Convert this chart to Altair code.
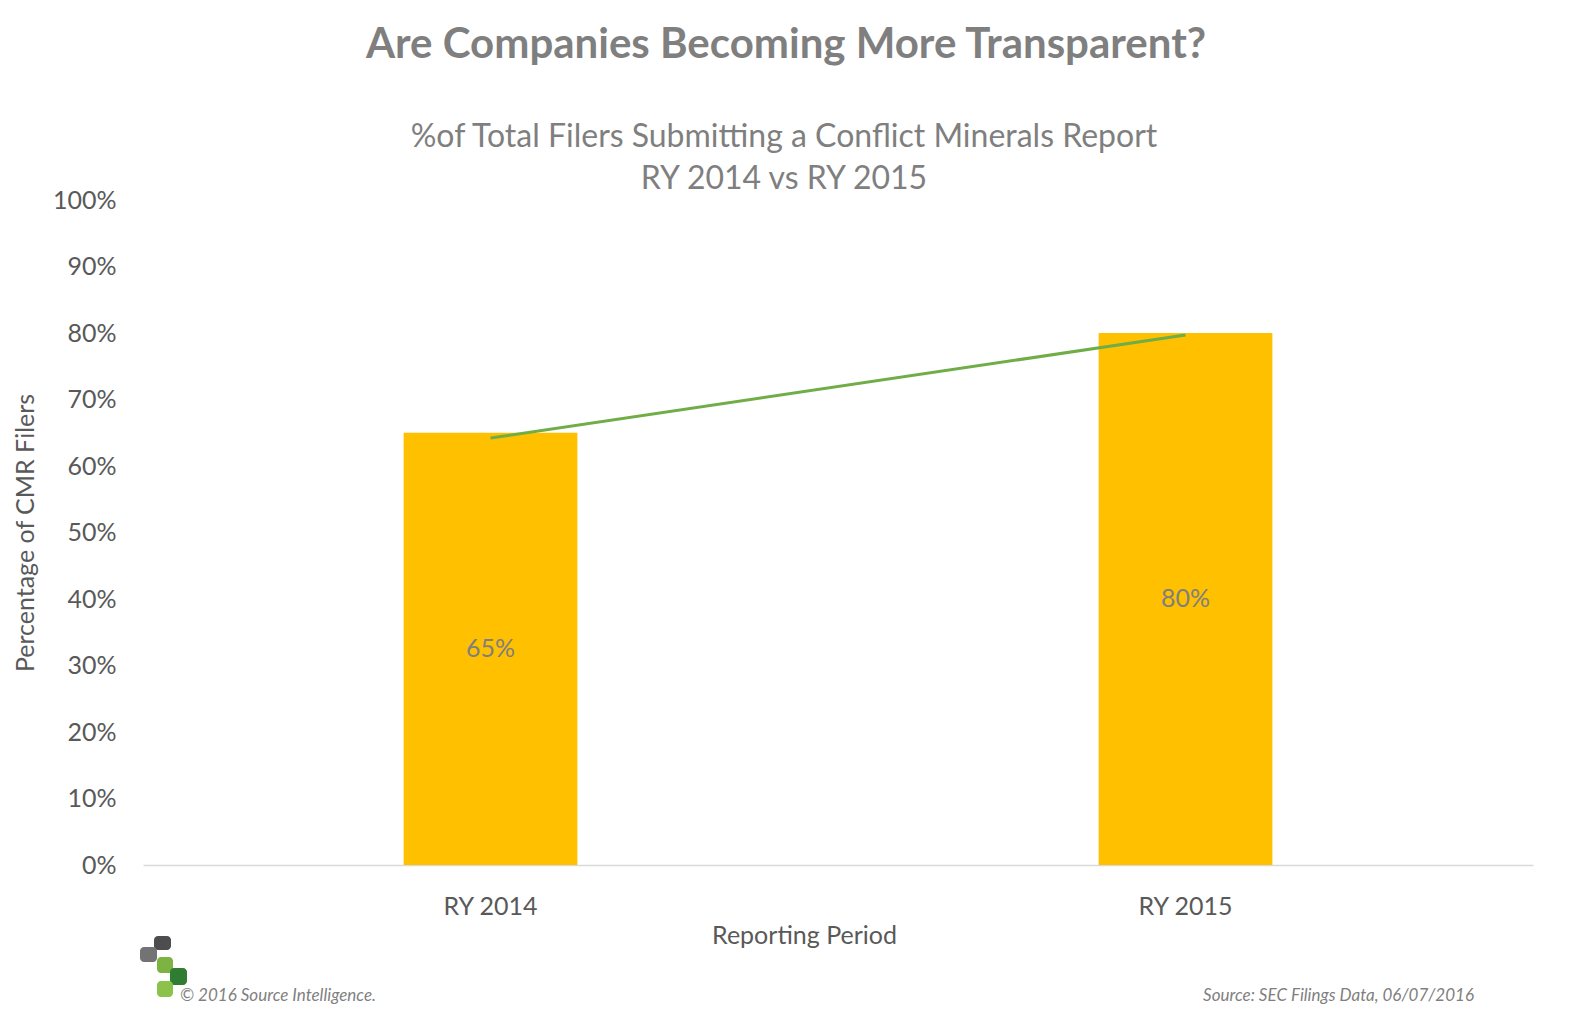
import altair as alt
import pandas as pd

periods = ["RY 2014", "RY 2015"]
pct_values = [65, 80]
trend_values = [64.2, 79.7]

FONT = "Lato"
GRAY = "#7f7f7f"
DARK = "#595959"

df = pd.DataFrame({"period": periods, "pct": pct_values, "trend": trend_values})

x_enc = alt.X(
    "period:N",
    sort=periods,
    scale=alt.Scale(paddingInner=0.75, paddingOuter=0.375),
    axis=alt.Axis(
        title="Reporting Period",
        labelAngle=0,
        labelFont=FONT,
        labelFontSize=25,
        labelColor=DARK,
        labelPadding=29,
        ticks=False,
        domainColor="#d9d9d9",
        domainWidth=1.5,
        titleFont=FONT,
        titleFontSize=25,
        titleFontWeight="normal",
        titleColor=DARK,
        titlePadding=4,
        titleX=661,
    ),
)

y_scale = alt.Scale(domain=[0, 100])

bars = alt.Chart(df).mark_bar(color="#ffc000").encode(
    x=x_enc,
    y=alt.Y(
        "pct:Q",
        scale=y_scale,
        axis=alt.Axis(
            title="Percentage of CMR Filers",
            values=list(range(0, 101, 10)),
            labelExpr="datum.value + '%'",
            labelFont=FONT,
            labelFontSize=25,
            labelColor=DARK,
            labelPadding=27,
            ticks=False,
            domain=False,
            grid=False,
            titleFont=FONT,
            titleFontSize=25,
            titleFontWeight="normal",
            titleColor=DARK,
            titlePadding=14,
        ),
    ),
)

line = alt.Chart(df).mark_line(color="#70ad47", strokeWidth=3).encode(
    x=alt.X("period:N", sort=periods),
    y=alt.Y("trend:Q", scale=y_scale),
)

labels = alt.Chart(df).transform_calculate(
    mid="datum.pct / 2", lab="datum.pct + '%'"
).mark_text(font=FONT, fontSize=25, color=GRAY, baseline="middle").encode(
    x=alt.X("period:N", sort=periods),
    y=alt.Y("mid:Q", scale=y_scale),
    text="lab:N",
)

def txt(s, x, y, size, weight="normal", style="normal", align="center", color=GRAY):
    return alt.Chart(pd.DataFrame({"t": [s]})).mark_text(
        font=FONT, fontSize=size, fontWeight=weight, fontStyle=style,
        align=align, baseline="alphabetic", color=color,
    ).encode(x=alt.value(x), y=alt.value(y), text="t:N")

title = txt("Are Companies Becoming More Transparent?", 643, -142, 42, weight="bold")
sub1 = txt("%of Total Filers Submitting a Conflict Minerals Report", 641, -53, 32)
sub2 = txt("RY 2014 vs RY 2015", 641, -11, 32)
foot1 = txt("\u00a9 2016 Source Intelligence.", 37, 801, 17, style="italic", align="left")
foot2 = txt("Source: SEC Filings Data, 06/07/2016", 1331, 801, 17, style="italic", align="right")

def sq(x, y, w, h, color):
    return alt.Chart(pd.DataFrame({"a": [0]})).mark_rect(color=color, cornerRadius=4).encode(
        x=alt.value(x), x2=alt.value(x + w), y=alt.value(y), y2=alt.value(y + h)
    )

logo = [
    sq(11, 736, 17, 14, "#4d4d4f"),
    sq(-3, 747, 17, 15, "#737375"),
    sq(14, 757, 16, 16, "#7cb342"),
    sq(27, 768, 17, 17, "#2e7d32"),
    sq(14, 781, 16, 16, "#8bc34a"),
]

chart = alt.layer(
    bars, line, labels, title, sub1, sub2, foot1, foot2, *logo
).properties(
    width=1390,
    height=665,
    autosize=alt.AutoSizeParams(type="none"),
    padding={"left": 135, "top": 192, "right": 20, "bottom": 145},
).configure_view(stroke=None)

chart.save("out.html", embed_options={"renderer": "svg", "actions": False})
